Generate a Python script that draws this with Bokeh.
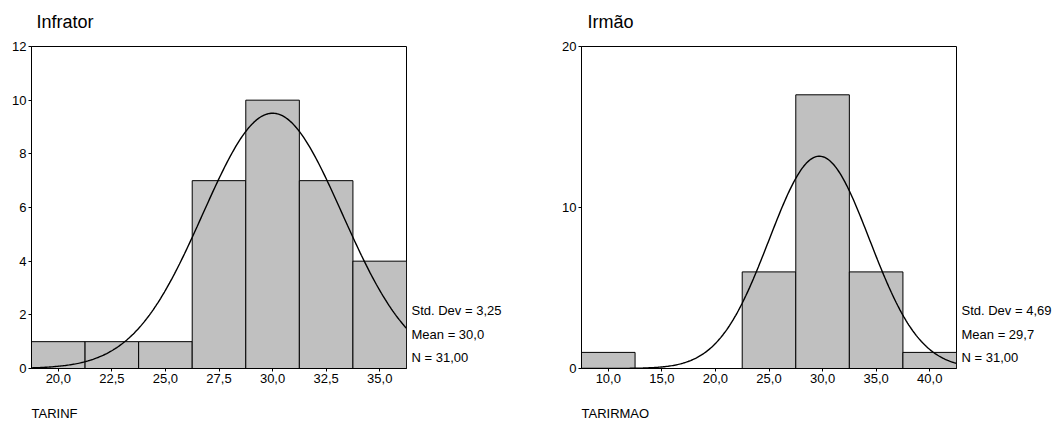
import numpy as np
from bokeh.plotting import figure
from bokeh.models import FixedTicker
from bokeh.core.properties import value
from bokeh.layouts import row, column
from bokeh.embed import file_html
from bokeh.resources import INLINE

# ---- data ----
inf_centers = [20.0, 22.5, 25.0, 27.5, 30.0, 32.5, 35.0]
inf_counts = [1, 1, 1, 7, 10, 7, 4]
inf_width = 2.5
inf_mean, inf_sd, inf_n = 30.0, 3.25, 31
inf_xticks = [20.0, 22.5, 25.0, 27.5, 30.0, 32.5, 35.0]
inf_yticks = [0, 2, 4, 6, 8, 10, 12]

irm_centers = [10.0, 15.0, 20.0, 25.0, 30.0, 35.0, 40.0]
irm_counts = [1, 0, 0, 6, 17, 6, 1]
irm_width = 5.0
irm_mean, irm_sd, irm_n = 29.7, 4.69, 31
irm_xticks = [10.0, 15.0, 20.0, 25.0, 30.0, 35.0, 40.0]
irm_yticks = [0, 10, 20]

titles = ["Infrator", "Irmão"]
xlabels = ["TARINF", "TARIRMAO"]

FONT = "Liberation Sans"
TOP_H = 38
MID_TOP = 46 - TOP_H
MID_H = 358
BOT_H = 421 - TOP_H - MID_H


def fmt(v, d):
    return f"{v:.{d}f}".replace(".", ",")


def blank_fig(w, h, xr, yr):
    s = figure(width=w, height=h, x_range=xr, y_range=yr,
               output_backend="svg", toolbar_location=None,
               x_axis_type=None, y_axis_type=None,
               min_border=0, min_border_left=0, min_border_right=0,
               min_border_top=0, min_border_bottom=0)
    s.outline_line_color = None
    s.xgrid.visible = False
    s.ygrid.visible = False
    s.background_fill_color = "white"
    s.border_fill_color = "white"
    return s


def hist_fig(centers, counts, width, mean, sd, n, xticks, yticks, ymax, left_border):
    x0 = centers[0] - width / 2
    x1 = centers[-1] + width / 2
    p = figure(width=left_border + 376, height=MID_H, x_range=(x0, x1), y_range=(0, ymax),
               output_backend="svg", toolbar_location=None,
               min_border_left=left_border, min_border_right=1,
               min_border_top=MID_TOP, min_border_bottom=MID_H - MID_TOP - 322)
    p.xgrid.visible = False
    p.ygrid.visible = False
    p.outline_line_color = "black"
    p.outline_line_width = 1
    p.outline_line_alpha = 1
    p.background_fill_color = "white"
    p.border_fill_color = "white"

    p.vbar(x=centers, top=counts, width=width, bottom=0,
           fill_color="#c0c0c0", line_color="black", line_width=1)

    xs = np.linspace(x0, x1, 300)
    ys = n * width / (sd * np.sqrt(2 * np.pi)) * np.exp(-0.5 * ((xs - mean) / sd) ** 2)
    p.line(xs, ys, line_color="black", line_width=1.4)

    for ax in (p.xaxis[0], p.yaxis[0]):
        ax.axis_line_color = "black"
        ax.major_tick_line_color = "black"
        ax.major_tick_out = 3
        ax.major_tick_in = 0
        ax.minor_tick_line_color = None
        ax.major_label_text_font = FONT
        ax.major_label_text_font_size = "13px"
        ax.major_label_text_color = "black"
    p.xaxis[0].ticker = FixedTicker(ticks=xticks)
    p.xaxis[0].major_label_overrides = {t: fmt(t, 1) for t in xticks}
    p.xaxis[0].major_label_standoff = 2
    p.yaxis[0].ticker = FixedTicker(ticks=yticks)
    p.yaxis[0].major_label_standoff = 2
    return p


def stats_fig(mean, sd, n, w):
    # y data = page pixel rows (frame spans 46..368 like the histogram frame)
    s = blank_fig(w, MID_H, (0, w), (368, 46))
    texts = [f"Std. Dev = {fmt(sd, 2)}", f"Mean = {fmt(mean, 1)}", f"N = {fmt(n, 2)}"]
    s.text(x=[4, 4, 4], y=[310, 333.5, 357], text=texts,
           text_font=value(FONT), text_font_size="13px",
           text_baseline="middle", text_align="left", text_color="black")
    return s


top = blank_fig(1053, TOP_H, (0, 1053), (TOP_H, 0))
top.text(x=[36, 587], y=[21, 21], text=titles, text_font=value(FONT),
         text_font_size="18px", text_baseline="middle", text_align="left",
         text_color="black")

bot = blank_fig(1053, BOT_H, (0, 1053), (421, 421 - BOT_H))
bot.text(x=[31, 581], y=[413, 413], text=xlabels, text_font=value(FONT),
         text_font_size="13px", text_baseline="middle", text_align="left",
         text_color="black")

p1 = hist_fig(inf_centers, inf_counts, inf_width, inf_mean, inf_sd, inf_n,
              inf_xticks, inf_yticks, 12, 31)
s1 = stats_fig(inf_mean, inf_sd, inf_n, 526 - 407)
p2 = hist_fig(irm_centers, irm_counts, irm_width, irm_mean, irm_sd, irm_n,
              irm_xticks, irm_yticks, 20, 55)
s2 = stats_fig(irm_mean, irm_sd, irm_n, 1053 - 526 - 431)

layout = column(top, row(p1, s1, p2, s2), bot)
open("out.html", "w").write(file_html(layout, INLINE))
